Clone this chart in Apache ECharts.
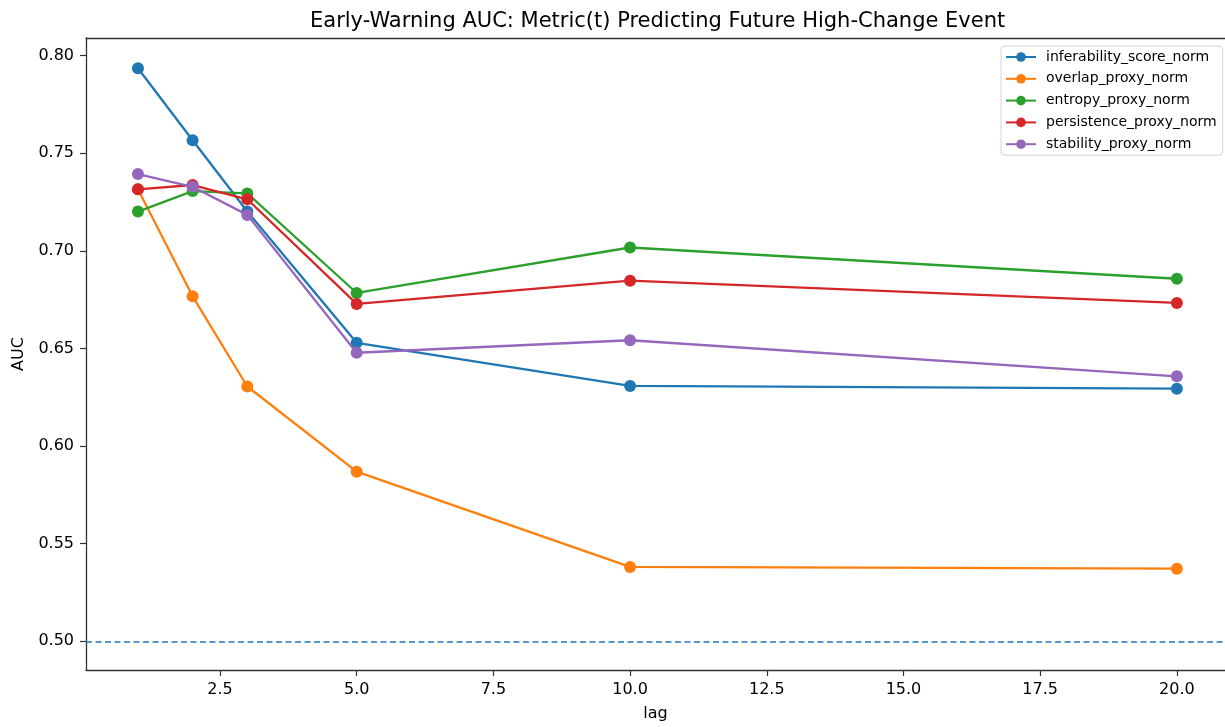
<!DOCTYPE html>
<html>
<head>
<meta charset="utf-8">
<script src="https://cdn.jsdelivr.net/npm/echarts@6/dist/echarts.min.js"></script>
<style>html,body{margin:0;padding:0;background:#fff;}#c{width:1225px;height:727px;}</style>
</head>
<body>
<div id="c"></div>
<script>
const lags = [1, 2, 3, 5, 10, 20];
const inferability = [0.7935, 0.7566, 0.7201, 0.6529, 0.6308, 0.6294];
const overlap = [0.7315, 0.6767, 0.6305, 0.5869, 0.5381, 0.5372];
const entropy = [0.7201, 0.7306, 0.7294, 0.6784, 0.7017, 0.6857];
const persistence = [0.7315, 0.7337, 0.7264, 0.6728, 0.6847, 0.6733];
const stability = [0.7393, 0.7328, 0.7184, 0.6478, 0.6542, 0.6357];
const seriesNames = ['inferability_score_norm', 'overlap_proxy_norm', 'entropy_proxy_norm', 'persistence_proxy_norm', 'stability_proxy_norm'];
const xTicks = [2.5, 5.0, 7.5, 10.0, 12.5, 15.0, 17.5, 20.0];
const yTicks = [0.50, 0.55, 0.60, 0.65, 0.70, 0.75, 0.80];
const baseline = 0.5;

const colors = ['#1f77b4', '#ff7f0e', '#2ca02c', '#d62728', '#9467bd'];
const values = [inferability, overlap, entropy, persistence, stability];
const FONT = 'DejaVu Sans';
const XMIN = 0.05, XMAX = 20.88;

const chart = echarts.init(document.getElementById('c'), null, {renderer: 'canvas'});
const series = values.map((v, i) => ({
  name: seriesNames[i],
  type: 'line',
  data: lags.map((x, j) => [x, v[j]]),
  symbol: 'circle',
  symbolSize: 12,
  color: colors[i],
  lineStyle: {width: 2.3, color: colors[i]},
  itemStyle: {color: colors[i]},
  z: 3 + i
}));
series.unshift({
  name: 'baseline',
  type: 'line',
  data: [],
  z: 2,
  markLine: {
    silent: true,
    symbol: ['none', 'none'],
    label: {show: false},
    animation: false,
    lineStyle: {color: '#1f77b4', type: [6, 3.5], width: 1.6},
    data: [{yAxis: baseline}]
  }
});

chart.setOption({
  animation: false,
  backgroundColor: '#fff',
  title: {
    text: 'Early-Warning AUC: Metric(t) Predicting Future High-Change Event',
    left: 305, top: 6,
    textStyle: {fontFamily: FONT, fontSize: 21, fontWeight: 'normal', color: '#000'}
  },
  grid: {left: 86, right: 0, top: 38, bottom: 55},
  legend: {
    data: seriesNames,
    orient: 'vertical',
    left: 1001, top: 46,
    itemWidth: 30, itemHeight: 12, itemGap: 7.8,
    padding: [4, 6, 4, 4],
    backgroundColor: '#fff',
    borderColor: '#d4d4d4', borderWidth: 1, borderRadius: 4,
    textStyle: {fontFamily: FONT, fontSize: 14, color: '#000', padding: [0, 0, 0, 5]}
  },
  xAxis: [{
    type: 'value', min: XMIN, max: XMAX,
    name: 'lag', nameLocation: 'middle', nameGap: 36,
    nameTextStyle: {fontFamily: FONT, fontSize: 16, color: '#000'},
    splitLine: {show: false},
    axisLine: {show: true, lineStyle: {color: '#333', width: 1.3}},
    axisTick: {show: true, length: 6, customValues: xTicks, lineStyle: {color: '#333', width: 1.2}},
    axisLabel: {customValues: xTicks, margin: 12, fontFamily: FONT, fontSize: 16, color: '#000',
      formatter: v => Number(v).toFixed(1)}
  }, {
    type: 'value', min: XMIN, max: XMAX, position: 'top',
    splitLine: {show: false},
    axisLine: {show: true, lineStyle: {color: '#333', width: 1.3}},
    axisTick: {show: false},
    axisLabel: {show: false}
  }],
  yAxis: {
    type: 'value', min: 0.4853, max: 0.809,
    name: 'AUC', nameLocation: 'middle', nameGap: 59,
    nameTextStyle: {fontFamily: FONT, fontSize: 16, color: '#000'},
    splitLine: {show: false},
    axisLine: {show: true, lineStyle: {color: '#333', width: 1.3}},
    axisTick: {show: true, length: 6, customValues: yTicks, lineStyle: {color: '#333', width: 1.2}},
    axisLabel: {customValues: yTicks, margin: 12, fontFamily: FONT, fontSize: 16, color: '#000',
      formatter: v => Number(v).toFixed(2)}
  },
  series: series
});
</script>
</body>
</html>
